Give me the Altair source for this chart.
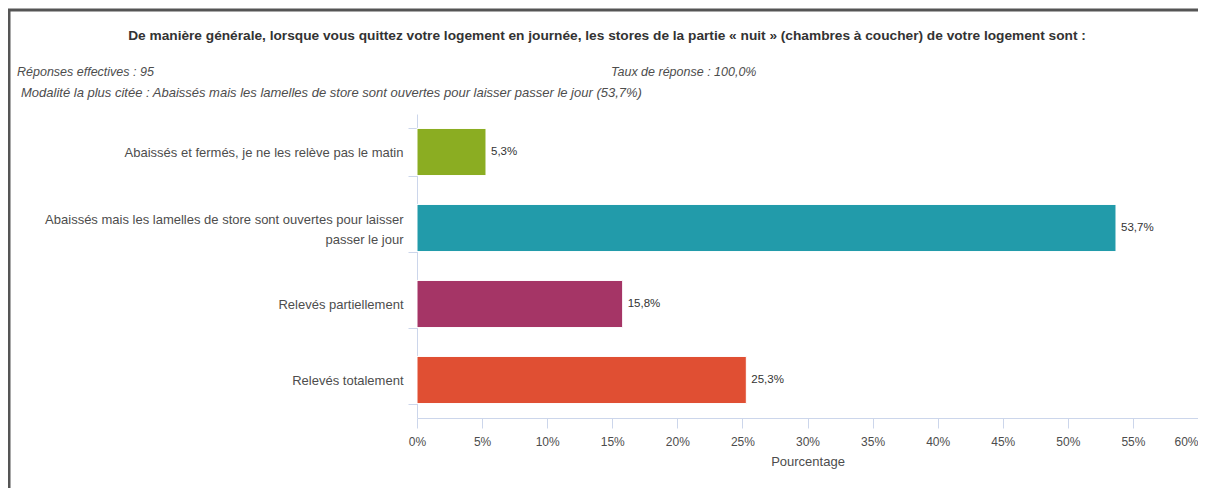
import json
import altair as alt
import pandas as pd

categories = [
    "Abaissés et fermés, je ne les relève pas le matin",
    "Abaissés mais les lamelles de store sont ouvertes pour laisser passer le jour",
    "Relevés partiellement",
    "Relevés totalement",
]
values = [5.3, 53.7, 15.8, 25.3]
colors = ["#8BAD22", "#229BAA", "#A53566", "#E04F33"]
x_ticks = [0, 5, 10, 15, 20, 25, 30, 35, 40, 45, 50, 55, 60]
wrapped = {
    categories[1]: [
        "Abaissés mais les lamelles de store sont ouvertes pour laisser",
        "passer le jour",
    ]
}

title_text = ("De manière générale, lorsque vous quittez votre logement en journée, "
              "les stores de la partie « nuit » (chambres à coucher) de votre logement sont :")
answers_text = "Réponses effectives : 95"
rate_text = "Taux de réponse : 100,0%"
top_text = ("Modalité la plus citée : Abaissés mais les lamelles de store sont ouvertes "
            "pour laisser passer le jour (53,7%)")
x_title = "Pourcentage"

df = pd.DataFrame({"cat": categories, "val": values})

W, H = 781, 304
FONT = "Liberation Sans"
AXIS_COL = "#ccd6eb"
TXT_COL = "#4d4d4d"

k, v = list(wrapped.items())[0]
label_expr = f"datum.value == {json.dumps(k)} ? {json.dumps(v)} : datum.value"
wrap_test = f"datum.value == {json.dumps(k)}"

base = alt.Chart(df)

bars = base.mark_bar(stroke="white", strokeWidth=1).encode(
    y=alt.Y(
        "cat:N",
        sort=categories,
        scale=alt.Scale(paddingInner=0.38, paddingOuter=0.19),
        axis=alt.Axis(
            title=None,
            labelExpr=label_expr,
            labelLimit=0,
            labelFont=FONT,
            labelFontSize=13,
            labelColor=TXT_COL,
            labelPadding=5,
            labelLineHeight=20,
            labelOffset={"condition": {"test": wrap_test, "value": -9}, "value": 0},
            tickSize=9,
            tickBand="extent",
            tickColor=AXIS_COL,
            domainColor=AXIS_COL,
            grid=False,
        ),
    ),
    x=alt.X(
        "val:Q",
        scale=alt.Scale(domain=[0, 60], nice=False),
        axis=alt.Axis(
            values=x_ticks,
            labelExpr="datum.value + '%'",
            title=x_title,
            titleFont=FONT,
            titleFontSize=13,
            titleFontWeight="normal",
            titleColor=TXT_COL,
            titlePadding=8,
            labelFont=FONT,
            labelFontSize=12,
            labelColor=TXT_COL,
            labelPadding=8,
            labelAlign={"condition": {"test": "datum.value == 60", "value": "right"}, "value": "center"},
            tickSize=10,
            tickColor=AXIS_COL,
            domainColor=AXIS_COL,
            grid=False,
        ),
    ),
    color=alt.Color("cat:N", scale=alt.Scale(domain=categories, range=colors), legend=None),
)

val_labels = base.transform_calculate(
    lab="replace(format(datum.val, '.1f'), '.', ',') + '%'"
).mark_text(align="left", baseline="middle", dx=5, font=FONT, fontSize=11.5, color="#333333").encode(
    y=alt.Y("cat:N", sort=categories),
    x=alt.X("val:Q"),
    text="lab:N",
)

one = alt.Data(values=[{}])


def txt(text, x, y, align="left", bold=False, italic=False, size=12.0, color=TXT_COL):
    return alt.Chart(one).mark_text(
        align=align, baseline="middle", font=FONT, fontSize=size,
        fontWeight="bold" if bold else "normal",
        fontStyle="italic" if italic else "normal", color=color,
    ).encode(x=alt.value(x), y=alt.value(y), text=alt.value(text))


title = txt(title_text, 190, -78, align="center", bold=True, size=13.7, color="#333333")
answers = txt(answers_text, -400, -42, italic=True, size=12.5)
rate = txt(rate_text, 194, -42, italic=True, size=12.5)
top = txt(top_text, -396, -21, italic=True, size=13)

frame_top = alt.Chart(one).mark_rule(color="#555555", strokeWidth=3).encode(
    x=alt.value(-411), x2=alt.value(782), y=alt.value(-104)
)
frame_left = alt.Chart(one).mark_rule(color="#555555", strokeWidth=3).encode(
    x=alt.value(-408), y=alt.value(-105), y2=alt.value(390)
)

chart = alt.layer(
    frame_top, frame_left, bars, val_labels, title, answers, rate, top
).properties(
    width=W, height=H,
    background="white",
    autosize=alt.AutoSizeParams(type="none"),
    padding={"left": 409, "top": 106, "right": 0, "bottom": 70},
).configure_view(strokeWidth=0, stroke=None)

chart.save("out.html", embed_options={"renderer": "svg", "actions": False})
